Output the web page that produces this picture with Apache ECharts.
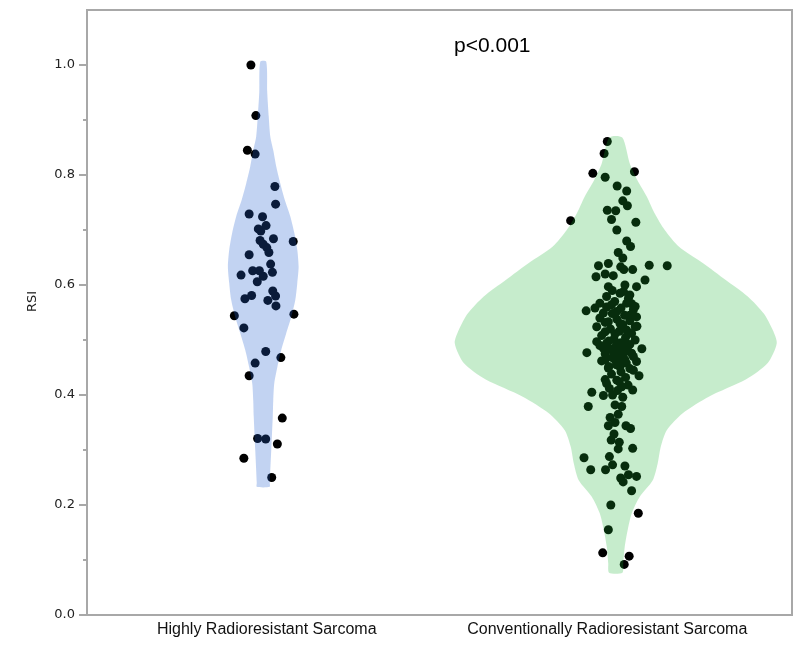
<!DOCTYPE html>
<html><head><meta charset="utf-8">
<script src="https://cdn.jsdelivr.net/npm/echarts@6/dist/echarts.min.js"></script>
<style>html,body{margin:0;padding:0;background:#fff}#c{width:800px;height:668px}</style>
</head><body><div id="c"></div>
<script>
const categories = ['Highly Radioresistant Sarcoma', 'Conventionally Radioresistant Sarcoma'];
const majorTicks = [0, 0.2, 0.4, 0.6, 0.8, 1.0];
const minorTicks = [0.1, 0.3, 0.5, 0.7, 0.9];
const annotation = 'p<0.001';

// Highly radioresistant: RSI values and horizontal jitter (category units)
const highlyRSI = [1.000,0.908,0.845,0.838,0.779,0.747,0.729,0.724,0.708,0.702,
  0.698,0.684,0.679,0.681,0.674,0.668,0.659,0.655,0.638,0.618,
  0.626,0.626,0.616,0.623,0.606,0.589,0.580,0.581,0.575,0.572,
  0.562,0.544,0.547,0.522,0.479,0.468,0.458,0.435,0.358,0.321,
  0.320,0.311,0.285,0.250];
const highlyJitter = [-0.035,-0.021,-0.045,-0.023,0.033,0.035,-0.040,-0.002,0.008,-0.014,
  -0.007,0.029,0.085,-0.009,0.000,0.010,0.016,-0.040,0.021,-0.063,
  -0.030,-0.011,0.000,0.026,-0.017,0.027,0.035,-0.033,-0.052,0.013,
  0.036,-0.082,0.087,-0.055,0.007,0.050,-0.023,-0.040,0.054,-0.016,
  0.007,0.040,-0.055,0.024];

// Conventionally radioresistant
const convRSI = [0.861,0.839,0.803,0.806,0.796,0.780,0.771,0.753,0.744,0.736,
  0.735,0.717,0.719,0.714,0.700,0.680,0.670,0.659,0.649,0.635,
  0.639,0.636,0.635,0.633,0.615,0.620,0.617,0.628,0.628,0.609,
  0.597,0.597,0.600,0.579,0.585,0.582,0.567,0.564,0.567,0.561,
  0.553,0.558,0.549,0.552,0.545,0.542,0.533,0.530,0.524,0.524,
  0.515,0.511,0.518,0.497,0.494,0.494,0.497,0.484,0.477,0.485,
  0.479,0.482,0.476,0.464,0.464,0.464,0.461,0.449,0.451,0.445,
  0.435,0.421,0.427,0.415,0.409,0.405,0.399,0.400,0.396,0.379,
  0.382,0.379,0.365,0.359,0.350,0.344,0.344,0.339,0.329,0.318,
  0.314,0.302,0.303,0.286,0.288,0.264,0.264,0.273,0.271,0.249,
  0.255,0.252,0.242,0.226,0.200,0.185,0.155,0.113,0.107,0.092,
  0.590,0.588,0.576,0.570,0.566,0.560,0.558,0.555,0.548,0.545,
  0.540,0.538,0.535,0.532,0.528,0.525,0.520,0.516,0.512,0.508,
  0.505,0.502,0.500,0.498,0.495,0.492,0.490,0.488,0.486,0.483,
  0.480,0.478,0.475,0.472,0.470,0.468,0.466,0.462,0.458,0.455,
  0.452,0.448,0.442,0.438,0.432,0.428,0.424,0.418,0.412,0.408];
const convJitter = [-0.024,-0.033,-0.065,0.053,-0.030,0.004,0.031,0.020,0.033,-0.024,
  0.000,-0.128,-0.012,0.057,0.003,0.031,0.042,0.007,0.020,-0.049,
  -0.021,0.095,0.146,0.014,-0.056,-0.030,-0.007,0.023,0.048,0.083,
  0.059,-0.021,0.026,-0.026,0.012,0.040,-0.045,-0.012,0.031,0.055,
  -0.084,-0.059,-0.035,0.003,0.040,0.059,-0.021,0.012,-0.054,0.055,
  -0.030,-0.002,0.031,-0.054,-0.026,0.003,0.026,0.074,-0.082,-0.035,
  -0.007,0.017,0.045,-0.030,-0.002,0.026,0.059,-0.021,0.012,0.050,
  0.066,-0.026,0.003,0.017,0.048,-0.068,-0.035,-0.009,0.020,-0.078,
  -0.002,0.017,0.007,-0.016,-0.002,-0.021,0.029,0.042,-0.005,-0.013,
  0.010,0.007,0.048,-0.090,-0.018,-0.071,-0.029,-0.009,0.026,0.014,
  0.036,0.059,0.021,0.045,-0.014,0.064,-0.021,-0.037,0.038,0.024,
  -0.010,0.022,0.036,-0.003,0.045,-0.026,0.015,0.050,-0.010,0.025,
  -0.045,0.003,0.040,-0.030,0.020,0.060,-0.015,0.010,0.045,-0.040,
  0.028,-0.005,0.055,-0.020,0.015,0.040,-0.045,0.000,0.025,-0.015,
  0.035,0.008,-0.030,0.020,0.050,-0.010,0.012,-0.040,0.030,0.002,
  -0.020,0.040,0.015,-0.012,0.028,-0.030,0.010,0.035,-0.018,0.005];

// Violin outlines: RSI levels and half-widths (category units)
const highlyViolinRSI = [1.006,0.95,0.906,0.87,0.845,0.815,0.785,0.755,0.725,0.695,0.664,0.633,0.603,0.573,0.542,0.512,0.482,0.451,0.421,0.39,0.361,0.30,0.24,0.233];
const highlyViolinHalf = [0.0085,0.0113,0.0156,0.020,0.0284,0.037,0.0482,0.061,0.0766,0.088,0.0965,0.1003,0.0965,0.091,0.0794,0.065,0.0511,0.040,0.0312,0.0284,0.027,0.0227,0.0184,0.0184];
const convViolinRSI = [0.868,0.821,0.791,0.761,0.73,0.70,0.67,0.64,0.609,0.579,0.548,0.518,0.494,0.458,0.428,0.397,0.367,0.336,0.306,0.276,0.245,0.215,0.185,0.155,0.124,0.094,0.077];
const convViolinHalf = [0.0184,0.0397,0.061,0.0879,0.1106,0.139,0.1787,0.2468,0.312,0.3745,0.4199,0.4454,0.4567,0.4312,0.3688,0.2638,0.19,0.1447,0.1277,0.1191,0.105,0.068,0.0454,0.034,0.0255,0.0213,0.019];

const violinRSI = [highlyViolinRSI, convViolinRSI];
const violinHalf = [highlyViolinHalf, convViolinHalf];
const violinColors = ['rgba(37,96,210,0.28)', 'rgba(28,180,50,0.25)'];

function pairs(center, jit, rsi) {
  const n = Math.min(jit.length, rsi.length);
  const out = [];
  for (let i = 0; i < n; i++) out.push([center + jit[i], rsi[i]]);
  return out;
}

const chart = echarts.init(document.getElementById('c'), null, {renderer: 'canvas'});
const axisGray = '#a8a8a8';
chart.setOption({
  animation: false,
  backgroundColor: '#fff',
  title: {
    text: annotation, left: 449, top: 31,
    textStyle: {fontFamily: 'Liberation Sans', fontSize: 21, fontWeight: 'normal', color: '#000'}
  },
  grid: {left: 87, right: 8, top: 10, bottom: 53, show: true, borderColor: axisGray, borderWidth: 2, backgroundColor: 'transparent'},
  xAxis: [{
    type: 'category', data: categories, boundaryGap: true,
    axisLine: {show: true, onZero: false, lineStyle: {color: axisGray, width: 2}},
    axisTick: {show: false},
    axisLabel: {
      interval: 0, margin: 7, color: '#111', fontFamily: 'Liberation Sans', fontSize: 16,
      formatter: (v, i) => (i === 0 ? '{a|' + v + '}' : '{b|' + v + '}'),
      rich: {
        a: {fontFamily: 'Liberation Sans', fontSize: 16, color: '#111', padding: [0, 0, 0, 7]},
        b: {fontFamily: 'Liberation Sans', fontSize: 16, color: '#111', padding: [0, 17, 0, 0]}
      }
    },
    splitLine: {show: false}
  }, {
    type: 'value', min: -0.5, max: 1.5, show: false, splitLine: {show: false},
    axisLine: {onZero: false}
  }],
  yAxis: [{
    type: 'value', min: 0, max: 1.1,
    name: 'RSI', nameLocation: 'middle', nameGap: 48,
    nameTextStyle: {fontFamily: 'DejaVu Sans', fontSize: 13, color: '#222', padding: [0, 0, 0, 22]},
    axisLine: {show: true, onZero: false, lineStyle: {color: axisGray, width: 2}},
    axisTick: {show: true, length: 8, customValues: majorTicks, lineStyle: {color: axisGray, width: 2}},
    axisLabel: {customValues: majorTicks, margin: 12, formatter: v => v.toFixed(1), fontFamily: 'DejaVu Sans', fontSize: 13, color: '#222'},
    splitLine: {show: false}
  }, {
    type: 'value', min: 0, max: 1.1, position: 'left', offset: 0,
    axisLine: {show: false, onZero: false},
    axisTick: {show: true, length: 4, customValues: minorTicks, lineStyle: {color: axisGray, width: 2}},
    axisLabel: {show: false},
    splitLine: {show: false}
  }],
  series: [{
    type: 'scatter', xAxisIndex: 1, yAxisIndex: 0, z: 2,
    symbolSize: 9, itemStyle: {color: '#000', opacity: 1},
    data: pairs(0, highlyJitter, highlyRSI)
  }, {
    type: 'scatter', xAxisIndex: 1, yAxisIndex: 0, z: 2,
    symbolSize: 9, itemStyle: {color: '#000', opacity: 1},
    data: pairs(1, convJitter, convRSI)
  }, {
    type: 'custom', xAxisIndex: 1, yAxisIndex: 0, z: 5, clip: false, silent: true,
    data: [[0, 0.6], [1, 0.5]],
    renderItem: function (params, api) {
      const k = params.dataIndex;
      const ys = violinRSI[k], hs = violinHalf[k];
      const right = [], left = [];
      for (let i = 0; i < ys.length; i++) {
        right.push(api.coord([k + hs[i], ys[i]]));
        left.push(api.coord([k - hs[i], ys[i]]));
      }
      const pts = right.concat(left.reverse());
      return {
        type: 'polygon',
        shape: {points: pts, smooth: 0.25},
        style: {fill: violinColors[k], stroke: null}
      };
    }
  }]
});
</script>
</body></html>
